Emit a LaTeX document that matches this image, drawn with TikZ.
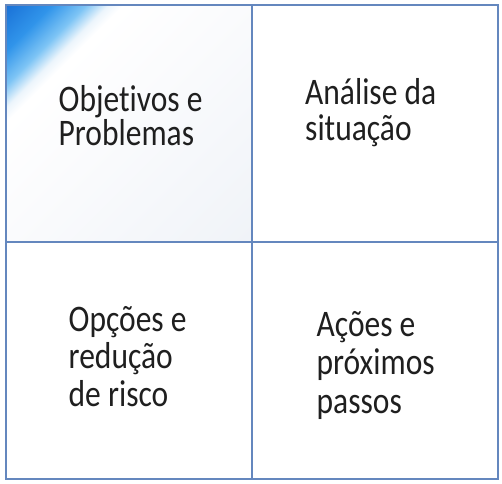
\documentclass[tikz,border=0pt]{standalone}
\usepackage{fontspec}
\setmainfont{Carlito}[Ligatures={NoCommon,NoRare,NoContextual}]
\usepackage{graphicx}
\definecolor{gridline}{RGB}{100,135,190}
\definecolor{cA}{RGB}{25,112,214}
\definecolor{cB}{RGB}{48,148,234}
\definecolor{cC}{RGB}{125,196,245}
\definecolor{cD}{RGB}{236,245,252}
\definecolor{cE}{RGB}{240,243,248}
\pgfdeclarehorizontalshading{cornershade}{100bp}{color(0bp)=(cA); color(14.6bp)=(cA); color(21.5bp)=(cB); color(26.5bp)=(cC); color(29.8bp)=(cD); color(32bp)=(white); color(85.4bp)=(cE); color(100bp)=(cE)}
\newcommand\lblbox[2]{\scalebox{0.84}[1]{\vtop{\baselineskip=#1\lineskiplimit=-100pt\relax #2}}}
\begin{document}
\begin{tikzpicture}[x=1pt,y=-1pt,
  cell/.style={draw=gridline, line width=1.6pt, minimum width=246pt, minimum height=237pt, inner sep=0pt, anchor=north west},
  lbl/.style={inner sep=0pt, anchor=base west, font=\fontsize{37.5}{37.5}\selectfont, text=black!88}]
\useasboundingbox (0,0) rectangle (502,483);
\fill[white] (0,0) rectangle (502,483);
\coordinate (c0) at (5,4);
\coordinate (c1) at (251,241);
\shade[shading=cornershade, shading angle=-45] (c0) rectangle (c1);
\node[cell] (tl) at (5,4) {};
\node[cell] (tr) at (251,4) {};
\node[cell] (bl) at (5,241) {};
\node[cell] (br) at (251,241) {};
\node[lbl] (t1) at (58.5,111) {\lblbox{34.2pt}{\hbox{Objetivos e}\hbox{Problemas}}};
\node[lbl] (t2) at (305,104.3) {\lblbox{35.7pt}{\hbox{Análise da}\hbox{situação}}};
\node[lbl] (t3) at (68.5,331.7) {\lblbox{37.2pt}{\hbox{Opções e}\hbox{redução}\hbox{de risco}}};
\node[lbl] (t4) at (316.5,336.7) {\lblbox{38.2pt}{\hbox{Ações e}\hbox{próximos}\hbox{passos}}};
\end{tikzpicture}
\end{document}
